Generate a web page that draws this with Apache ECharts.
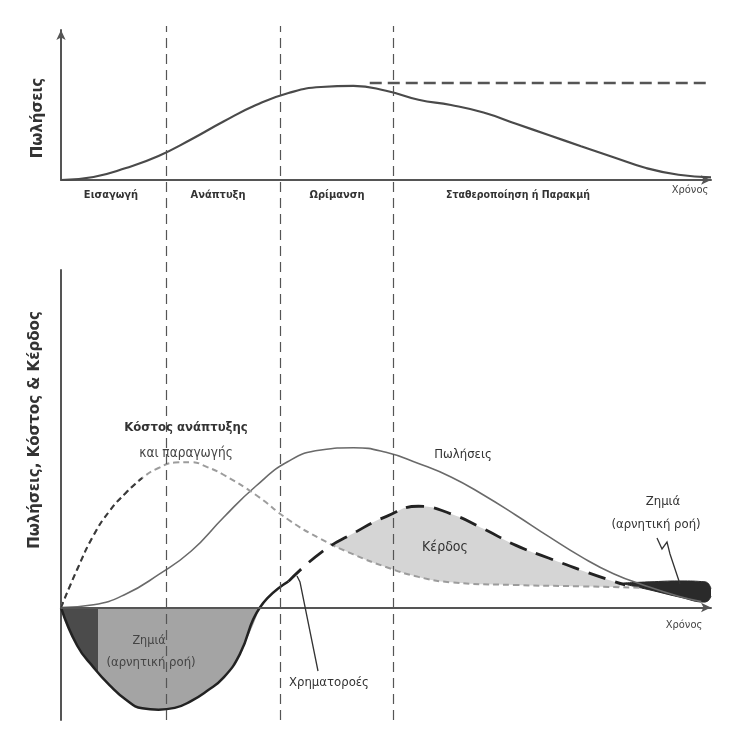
<!DOCTYPE html>
<html>
<head>
<meta charset="utf-8">
<script src="https://cdn.jsdelivr.net/npm/echarts@6/dist/echarts.min.js"></script>
<style>
  html, body { margin: 0; padding: 0; background: #fff; }
  #chart { width: 739px; height: 749px; }
</style>
</head>
<body>
<div id="chart"></div>
<script>
// stage boundaries (time units 0..100)
var stageBounds = [16.2, 33.7, 51.1]

// top panel: sales over the life cycle
var topTime = [0, 5, 10, 15, 20, 25, 30, 35, 40, 45, 50, 55, 60, 65, 70, 75, 80, 85, 90, 95, 100]
var topSales = [0, 2, 8, 16, 27, 39, 50, 58, 62, 62.7, 59.5, 53.5, 50, 45, 37.5, 30, 22.5, 15.2, 8, 3.5, 1.8]
var plateauTime = [47.5, 99.8]
var plateauLevel = [64.7, 64.7]

// bottom panel
var salesTime = [0, 5, 10, 15, 20, 25, 30, 35, 40, 45, 50, 55, 60, 65, 70, 75, 80, 85, 90, 95, 98.5]
var salesVals = [0, 0.6, 3, 7.3, 12.5, 20, 27, 32.5, 35, 35.5, 34.5, 32, 29, 25, 20.5, 15.8, 11.3, 7.5, 4.8, 2.5, 1.3]

var costTime = [0, 2.5, 5, 7.5, 10, 12.5, 15, 17.5, 20, 22.5, 25, 30, 35, 40, 45, 50, 55, 60, 70, 80, 89]
var costVals = [0, 8.5, 16, 21.5, 25.5, 28.8, 31, 32.2, 32.3, 31.2, 29.5, 25, 19.5, 15.2, 11.8, 9, 6.8, 5.6, 5, 4.7, 4.4]
var costDarkEnd = 5 // first points drawn darker

var cashTime = [0, 2.5, 5, 7.5, 10, 12.5, 15, 17.5, 20, 22.5, 25, 27.5, 30.6, 35, 40, 45, 50, 55, 60, 65, 70, 75, 80, 85, 86.8]
var cashVals = [0, -8.5, -13.3, -17.3, -20.5, -22.4, -22.7, -22.3, -20.8, -18.5, -15.6, -10.4, 0, 5.8, 12.2, 16.5, 20.2, 22.5, 20.8, 17.5, 13.8, 11, 8.3, 5.8, 5]
var cashZeroIdx = 12 // where cash flow crosses zero
var cashSolidEnd = 13 // solid part ends, dashed starts
var darkLossEnd = 5.7 // dark wedge of early loss

// loss blob at the end of the life cycle
var lossTime = [86, 90.6, 95.2, 99.1, 100]
var lossLow = [5.4, 3.9, 2.3, 1.2, 2.5]
var lossHigh = [5.4, 5.7, 5.9, 5.7, 4.2]

function pairs (xs, ys) {
  return xs.map(function (x, i) { return [x, ys[i]] })
}

var FONT = '"DejaVu Sans Condensed", "Liberation Sans Narrow", "DejaVu Sans", sans-serif'
var FONT_WIDE = '"DejaVu Sans", "Noto Sans", sans-serif'

function txt (x, y, text, size, weight, color, rot, family) {
  return {
    type: 'text',
    x: x,
    y: y,
    rotation: rot || 0,
    z: 100,
    style: {
      text: text,
      fontSize: size,
      fontWeight: weight || 'normal',
      fontFamily: family || FONT,
      fill: color || '#333',
      align: 'center',
      verticalAlign: 'middle'
    }
  }
}

function hiddenAxis (gi) {
  return { gridIndex: gi, type: 'value', show: false, min: 0, max: 100 }
}

function plainAxis (gi, min, max, arrow, z) {
  return {
    gridIndex: gi,
    type: 'value',
    min: min,
    max: max,
    z: z || 0,
    axisLine: {
      show: true,
      symbol: arrow ? ['none', 'arrow'] : 'none',
      symbolSize: [7, 10],
      lineStyle: { color: '#555', width: 2 }
    },
    axisTick: { show: false },
    axisLabel: { show: false },
    splitLine: { show: false }
  }
}

// smooth line in the bottom panel
function curve (data, extra) {
  var s = {
    type: 'line', xAxisIndex: 1, yAxisIndex: 1, smooth: 0.5,
    symbol: 'none', silent: true, data: data
  }
  for (var k in extra) s[k] = extra[k]
  return s
}

var costPts = pairs(costTime, costVals)
var cashPts = pairs(cashTime, cashVals)
var cashNeg = cashPts.slice(0, cashZeroIdx + 1)
var cashSolid = cashPts.slice(0, cashSolidEnd + 1)
var cashDashed = cashPts.slice(cashSolidEnd)
var darkStop = darkLossEnd / cashTime[cashZeroIdx]

var chart = echarts.init(document.getElementById('chart'))
chart.setOption({
  animation: false,
  backgroundColor: '#fff',
  grid: [
    { left: 61, width: 650, top: 30, height: 150 },
    { left: 61, width: 650, top: 270, height: 450 },
    { left: 61, width: 650, top: 26, height: 694 }
  ],
  xAxis: [
    plainAxis(0, 0, 100, true),
    plainAxis(1, 0, 100, true, 5),
    hiddenAxis(2)
  ],
  yAxis: [
    plainAxis(0, 0, 100, true),
    plainAxis(1, -25, 75, false),
    hiddenAxis(2)
  ],
  series: [
    // top panel
    {
      type: 'line', xAxisIndex: 0, yAxisIndex: 0, smooth: 0.5, symbol: 'none',
      data: pairs(topTime, topSales),
      lineStyle: { color: '#4a4a4a', width: 2.2 }
    },
    {
      type: 'line', xAxisIndex: 0, yAxisIndex: 0, symbol: 'none',
      data: pairs(plateauTime, plateauLevel),
      lineStyle: { color: '#555', width: 2.5, type: [12, 6] }
    },
    // profit fill: cash area, then white below the cost curve
    curve(cashDashed, { lineStyle: { width: 0 }, areaStyle: { color: '#d5d5d5', opacity: 1 } }),
    curve(costPts, { lineStyle: { width: 0 }, areaStyle: { color: '#fff', opacity: 1 } }),
    // early loss area
    curve(cashNeg, {
      lineStyle: { width: 0 },
      areaStyle: {
        opacity: 1,
        color: {
          type: 'linear', x: 0, y: 0, x2: 1, y2: 0,
          colorStops: [
            { offset: 0, color: '#4b4b4b' },
            { offset: darkStop, color: '#4b4b4b' },
            { offset: darkStop, color: '#a4a4a4' },
            { offset: 1, color: '#a4a4a4' }
          ]
        }
      }
    }),
    // late loss blob: dark area down to zero, white below its lower edge
    curve(pairs(lossTime, lossHigh), { lineStyle: { width: 1, color: '#2a2a2a' }, areaStyle: { color: '#2a2a2a', opacity: 1 } }),
    curve(pairs(lossTime, lossLow), { lineStyle: { width: 1, color: '#2a2a2a' }, areaStyle: { color: '#fff', opacity: 1 } }),
    // sales
    curve(pairs(salesTime, salesVals), { lineStyle: { color: '#6a6a6a', width: 1.6 } }),
    // cost of development and production
    curve(costPts, { lineStyle: { color: '#9c9c9c', width: 2, type: [6, 4] } }),
    curve(costPts.slice(0, costDarkEnd + 1), { lineStyle: { color: '#3a3a3a', width: 2, type: [6, 4] } }),
    // cash flow
    curve(cashSolid, { lineStyle: { color: '#222', width: 2.5 } }),
    curve(cashDashed, { lineStyle: { color: '#222', width: 2.8, type: [18, 10] } }),
    // stage dividers across both panels
    {
      type: 'line', xAxisIndex: 2, yAxisIndex: 2, z: 10, symbol: 'none',
      data: [],
      markLine: {
        silent: true,
        symbol: 'none',
        label: { show: false },
        lineStyle: { color: '#555', width: 1.2, type: [10, 6] },
        data: stageBounds.map(function (t) { return { xAxis: t } })
      }
    }
  ],
  graphic: [
    txt(38, 118, 'Πωλήσεις', 15, 'bold', '#333', Math.PI / 2, FONT_WIDE),
    txt(35, 430, 'Πωλήσεις, Κόστος & Κέρδος', 15, 'bold', '#333', Math.PI / 2, FONT_WIDE),
    txt(111, 195, 'Εισαγωγή', 11, 'bold', '#333'),
    txt(218, 195, 'Ανάπτυξη', 11, 'bold', '#333'),
    txt(337, 195, 'Ωρίμανση', 11, 'bold', '#333'),
    txt(518, 195, 'Σταθεροποίηση ή Παρακμή', 10.5, 'bold', '#333'),
    txt(690, 190, 'Χρόνος', 11, 'normal', '#444'),
    txt(186, 428, 'Κόστος ανάπτυξης', 13, 'bold', '#333'),
    txt(186, 453, 'και παραγωγής', 13.5, 'normal', '#444'),
    txt(463, 455, 'Πωλήσεις', 13, 'normal', '#333'),
    txt(445, 547, 'Κέρδος', 14, 'normal', '#333'),
    txt(663, 502, 'Ζημιά', 13, 'normal', '#333'),
    txt(656, 525, '(αρνητική ροή)', 13, 'normal', '#333'),
    txt(149, 641, 'Ζημιά', 12.5, 'normal', '#444'),
    txt(151, 663, '(αρνητική ροή)', 13, 'normal', '#444'),
    txt(329, 683, 'Χρηματοροές', 13, 'normal', '#333'),
    txt(684, 625, 'Χρόνος', 11, 'normal', '#444'),
    {
      type: 'polyline', z: 100,
      shape: { points: [[297, 576], [300, 582], [318, 671]] },
      style: { stroke: '#333', lineWidth: 1.3, fill: null }
    },
    {
      type: 'polyline', z: 100,
      shape: { points: [[657, 538], [662, 549], [667, 542], [670, 554], [680, 584]] },
      style: { stroke: '#333', lineWidth: 1.3, fill: null }
    }
  ]
})
</script>
</body>
</html>
